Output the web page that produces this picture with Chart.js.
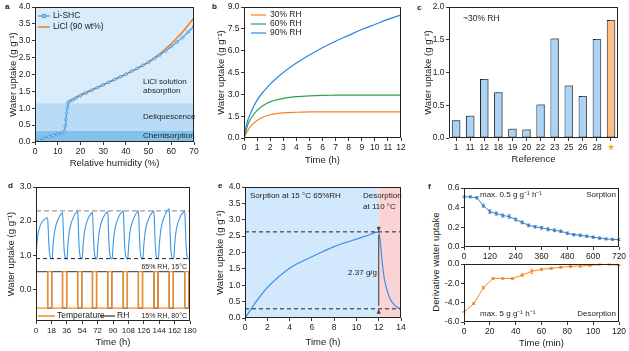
<!DOCTYPE html>
<html>
<head>
<meta charset="utf-8">
<script src="https://cdn.jsdelivr.net/npm/chart.js@4.4.1/dist/chart.umd.min.js"></script>
<style>
  body { margin: 0; background: #fff; }
  #fig { position: relative; width: 629px; height: 351px; overflow: hidden; font-family: "Liberation Sans", Arial, sans-serif; color: #222; }
  #fig canvas { position: absolute; }
  .tag { position: absolute; font-weight: bold; font-size: 8px; line-height: 8px; }
  .ftitle { position: absolute; font-size: 9.5px; white-space: nowrap; transform: translate(-50%, -50%) rotate(-90deg); }
</style>
</head>
<body>
<div id="fig">
  <div class="tag" style="left:5px;top:3px">a</div>
  <div class="tag" style="left:212px;top:3px">b</div>
  <div class="tag" style="left:417px;top:4px">c</div>
  <div class="tag" style="left:8px;top:182px">d</div>
  <div class="tag" style="left:218px;top:182px">e</div>
  <div class="tag" style="left:428px;top:183px">f</div>
  <div class="ftitle" style="left:435px;top:262px">Derivative water uptake</div>
</div>
<script>
const FONT = '"Liberation Sans", Arial, sans-serif';
const INK = "#222";
const UPTAKE_TITLE = "Water uptake (g g\u207B\u00B9)";

// a: sorption isotherm
const shcRH = [0, 2, 4, 6, 8, 10, 12, 13, 13.3, 13.6, 13.9, 14.2, 14.5, 15, 16.5, 18, 20, 22.5, 25, 27.5, 30, 32.5, 35, 37.5, 40, 42.5, 45, 47.5, 50, 52.5, 55, 57.5, 60, 62.5, 65, 67.5, 70];
const shcUptake = [0, 0.05, 0.12, 0.16, 0.2, 0.24, 0.28, 0.32, 0.48, 0.66, 0.85, 1.02, 1.15, 1.19, 1.24, 1.3, 1.37, 1.45, 1.53, 1.61, 1.69, 1.77, 1.85, 1.93, 2.01, 2.1, 2.18, 2.27, 2.36, 2.47, 2.58, 2.7, 2.83, 2.96, 3.1, 3.26, 3.43];
const liclRH = [14.5, 20, 25, 30, 35, 40, 45, 50, 55, 60, 65, 70];
const liclUptake = [1.2, 1.4, 1.55, 1.7, 1.85, 2.01, 2.18, 2.37, 2.61, 2.91, 3.26, 3.68];
const regionEdges = [0, 0.33, 1.15, 4.0];

// b: uptake kinetics
const kinTime = [0, 0.25, 0.5, 1, 1.5, 2, 2.5, 3, 4, 5, 6, 7, 8, 9, 10, 11, 12];
const uptake30 = [0, 0.45, 0.8, 1.2, 1.46, 1.6, 1.68, 1.73, 1.77, 1.79, 1.8, 1.8, 1.8, 1.8, 1.8, 1.8, 1.8];
const uptake60 = [0, 0.8, 1.3, 1.9, 2.25, 2.48, 2.62, 2.72, 2.84, 2.9, 2.93, 2.94, 2.95, 2.95, 2.95, 2.95, 2.95];
const uptake90 = [0, 1.1, 1.7, 2.6, 3.2, 3.7, 4.12, 4.5, 5.15, 5.7, 6.2, 6.65, 7.05, 7.45, 7.8, 8.15, 8.45];

// c: comparison with references
const refLabels = ["1", "11", "12", "18", "19", "20", "22", "23", "25", "26", "28", "\u2605"];
const refUptake = [0.27, 0.34, 0.9, 0.7, 0.14, 0.13, 0.51, 1.52, 0.8, 0.64, 1.51, 1.8];

// d: cycling
const cycleCurve = [
  [0, 0.88], [0.4, 1.1], [1, 1.32], [2, 1.55], [3, 1.7], [4.5, 1.84], [6.5, 1.95], [9, 2.03], [11.5, 2.08], [13.6, 2.1],
  [14.2, 1.82], [14.8, 1.45], [15.5, 1.15], [16.3, 0.98], [17.4, 0.91], [18.9, 0.89],
  [19.4, 1.08], [20.1, 1.35], [21.1, 1.58], [22.1, 1.74], [23.6, 1.9], [25.6, 2.04], [27.6, 2.14], [29.6, 2.21], [31.0, 2.25],
  [31.6, 1.95], [32.2, 1.52], [32.9, 1.17], [33.7, 0.99], [34.8, 0.91], [36.3, 0.89],
  [36.8, 1.08], [37.5, 1.35], [38.5, 1.6], [39.5, 1.77], [41, 1.93], [43, 2.07], [45, 2.18], [47, 2.25], [48.7, 2.3],
  [49.3, 2.0], [49.9, 1.55], [50.6, 1.18], [51.4, 0.99], [52.5, 0.91], [54, 0.89],
  [54.5, 1.08], [55.2, 1.35], [56.2, 1.6], [57.2, 1.76], [58.7, 1.92], [60.7, 2.06], [62.7, 2.16], [64.5, 2.22], [66.0, 2.26],
  [66.6, 1.96], [67.2, 1.52], [67.9, 1.17], [68.7, 0.99], [69.8, 0.91], [71.3, 0.89],
  [71.8, 1.08], [72.5, 1.35], [73.5, 1.6], [74.5, 1.77], [76, 1.93], [78, 2.07], [80, 2.17], [82, 2.24], [83.8, 2.28],
  [84.4, 1.98], [85, 1.53], [85.7, 1.17], [86.5, 0.99], [87.6, 0.91], [89.1, 0.89],
  [89.6, 1.08], [90.3, 1.35], [91.3, 1.6], [92.3, 1.77], [93.8, 1.93], [95.8, 2.07], [97.8, 2.18], [100, 2.25], [102.0, 2.3],
  [102.6, 2.0], [103.2, 1.55], [103.9, 1.18], [104.7, 0.99], [105.8, 0.91], [107.3, 0.89],
  [107.8, 1.08], [108.5, 1.35], [109.5, 1.6], [110.5, 1.77], [112, 1.93], [114, 2.07], [116, 2.18], [118, 2.25], [119.7, 2.3],
  [120.3, 2.0], [120.9, 1.55], [121.6, 1.18], [122.4, 0.99], [123.5, 0.91], [125, 0.89],
  [125.5, 1.08], [126.2, 1.35], [127.2, 1.6], [128.2, 1.77], [129.7, 1.93], [131.7, 2.07], [133.7, 2.18], [135.9, 2.25], [137.8, 2.3],
  [138.4, 2.0], [139, 1.55], [139.7, 1.18], [140.5, 0.99], [141.6, 0.91], [143.1, 0.89],
  [143.6, 1.08], [144.3, 1.36], [145.3, 1.62], [146.3, 1.8], [147.8, 1.97], [149.8, 2.12], [151.8, 2.23], [153.8, 2.31], [155.7, 2.36],
  [156.3, 2.05], [156.9, 1.58], [157.6, 1.19], [158.4, 0.99], [159.5, 0.91], [161, 0.89],
  [161.5, 1.08], [162.2, 1.35], [163.2, 1.6], [164.2, 1.77], [165.7, 1.93], [167.7, 2.07], [169.7, 2.18], [171.9, 2.25], [173.8, 2.3],
  [174.4, 2.0], [175, 1.55], [175.7, 1.18], [176.5, 0.99], [177.6, 0.91], [179.1, 0.89], [180, 0.9],
];
const desorbStart = [13.6, 31.0, 48.7, 66.0, 83.8, 102.0, 119.7, 137.8, 155.7, 173.8];
const desorbEnd = [18.4, 35.8, 53.5, 70.8, 88.6, 106.8, 124.5, 142.6, 160.5, 178.6];
const switchLevels = [0.52, -0.55];
const cycleRefLines = [2.3, 0.9];

// e: single sorption / desorption run
const runTime = [0, 0.5, 1, 1.5, 2, 3, 4, 5, 6, 7, 8, 9, 10, 11, 12, 12.15, 12.3, 12.5, 12.75, 13, 13.25, 13.5, 13.75, 14];
const runUptake = [0, 0.25, 0.5, 0.73, 0.93, 1.25, 1.52, 1.71, 1.87, 2.03, 2.18, 2.3, 2.41, 2.52, 2.63, 2.3, 1.75, 1.2, 0.85, 0.6, 0.46, 0.37, 0.31, 0.28];
const runRefLines = [2.63, 0.28];

// f: derivative uptake
const sorpTime = [0, 30, 60, 90, 120, 150, 180, 210, 240, 270, 300, 330, 360, 390, 420, 450, 480, 510, 540, 570, 600, 630, 660, 690, 720];
const sorpRate = [0.51, 0.51, 0.5, 0.42, 0.36, 0.34, 0.32, 0.31, 0.28, 0.25, 0.22, 0.205, 0.195, 0.18, 0.17, 0.16, 0.14, 0.125, 0.12, 0.11, 0.1, 0.09, 0.082, 0.078, 0.075];
const sorpErr = [0.01, 0.01, 0.012, 0.015, 0.018, 0.016, 0.016, 0.018, 0.015, 0.014, 0.014, 0.013, 0.014, 0.015, 0.014, 0.013, 0.013, 0.012, 0.012, 0.012, 0.011, 0.011, 0.01, 0.01, 0.01];
const desTime = [0, 7.5, 15, 22.5, 30, 37.5, 45, 52.5, 60, 67.5, 75, 82.5, 90, 97.5, 105, 112.5, 120];
const desRate = [-4.95, -4.1, -2.45, -1.5, -1.5, -1.5, -1.15, -0.75, -0.55, -0.45, -0.33, -0.25, -0.2, -0.15, -0.05, -0.05, -0.12];
const desErr = [0.05, 0.1, 0.12, 0.08, 0.06, 0.08, 0.12, 0.22, 0.12, 0.1, 0.1, 0.08, 0.14, 0.08, 0.05, 0.05, 0.05];

Chart.defaults.font.family = FONT;
Chart.defaults.font.size = 8.5;
Chart.defaults.color = INK;
Chart.defaults.animation = false;
Chart.defaults.events = [];
Chart.defaults.plugins.legend.display = false;
Chart.defaults.plugins.tooltip.enabled = false;
Chart.defaults.elements.point.radius = 0;

const fig = document.getElementById("fig");

function pairs(xs, ys) {
  return xs.map((x, i) => ({ x, y: ys[i] }));
}

function stepSeries(normal, during) {
  const points = [{ x: 0, y: normal }];
  desorbStart.forEach((start, i) => {
    points.push({ x: start, y: during });
    points.push({ x: desorbEnd[i], y: normal });
  });
  points.push({ x: 180, y: normal });
  return points;
}

function fixed(digits) {
  return (value) => Number(value).toFixed(digits);
}

function axis(dir, box, plot, o) {
  const horizontal = dir === "x";
  const size = horizontal ? box.y + box.h - plot.b : plot.l - box.x;
  const lineHeight = 9.5 * 1.2;
  const scale = {
    type: o.type || "linear",
    position: horizontal ? "bottom" : "left",
    grid: { drawOnChartArea: false, tickLength: 3, color: INK, lineWidth: 0.9, offset: false },
    border: { display: false },
    ticks: { padding: 1.5, maxRotation: 0, autoSkip: false, font: { size: o.tickSize || 8.5 }, color: o.tickColor || INK },
    title: {
      display: !!o.title,
      text: o.title || "",
      color: INK,
      font: { size: 9.5 },
      padding: horizontal
        ? { top: 0, bottom: box.y + box.h - (o.titleAt || 0) - lineHeight / 2 }
        : { top: (o.titleAt || 0) - box.x - lineHeight / 2, bottom: 0 },
    },
    afterFit(s) {
      if (horizontal) s.height = size;
      else s.width = size;
    },
  };
  if (o.min !== undefined) scale.min = o.min;
  if (o.max !== undefined) scale.max = o.max;
  if (o.step !== undefined) scale.ticks.stepSize = o.step;
  if (o.format) scale.ticks.callback = o.format;
  if (o.only) scale.afterBuildTicks = (s) => { s.ticks = o.only.map((value) => ({ value })); };
  return scale;
}

function decoPlugin(spec) {
  return {
    id: "deco",
    beforeDatasetsDraw(chart) {
      const { ctx, chartArea: area, scales } = chart;
      (spec.bands || []).forEach((band) => {
        ctx.fillStyle = band.color;
        if (band.axis === "x") {
          const x1 = scales.x.getPixelForValue(band.from);
          const x2 = scales.x.getPixelForValue(band.to);
          ctx.fillRect(x1, area.top, x2 - x1, area.bottom - area.top);
        } else {
          const y1 = scales.y.getPixelForValue(band.to);
          const y2 = scales.y.getPixelForValue(band.from);
          ctx.fillRect(area.left, y1, area.right - area.left, y2 - y1);
        }
      });
      ctx.save();
      if (spec.shadow) {
        ctx.shadowColor = "rgba(110, 110, 110, 0.75)";
        ctx.shadowOffsetX = 2;
        ctx.shadowOffsetY = -1;
        ctx.shadowBlur = 0;
      }
    },
    afterDatasetsDraw(chart) {
      const { ctx, chartArea: area, scales } = chart;
      ctx.restore();

      chart.data.datasets.forEach((dataset, di) => {
        if (!dataset.errors) return;
        const meta = chart.getDatasetMeta(di);
        ctx.save();
        ctx.strokeStyle = dataset.borderColor;
        ctx.lineWidth = 0.8;
        meta.data.forEach((el, i) => {
          const value = dataset.data[i].y;
          const top = scales.y.getPixelForValue(value + dataset.errors[i]);
          const bottom = scales.y.getPixelForValue(value - dataset.errors[i]);
          ctx.beginPath();
          ctx.moveTo(el.x, top);
          ctx.lineTo(el.x, bottom);
          ctx.moveTo(el.x - 1.6, top);
          ctx.lineTo(el.x + 1.6, top);
          ctx.moveTo(el.x - 1.6, bottom);
          ctx.lineTo(el.x + 1.6, bottom);
          ctx.stroke();
        });
        ctx.restore();
      });

      (spec.hlines || []).forEach((line) => {
        const y = scales.y.getPixelForValue(line.y);
        ctx.save();
        ctx.strokeStyle = line.color;
        ctx.lineWidth = line.width || 1;
        ctx.setLineDash(line.dash || [4, 3]);
        ctx.beginPath();
        ctx.moveTo(area.left, y);
        ctx.lineTo(area.right, y);
        ctx.stroke();
        ctx.restore();
      });

      (spec.arrows || []).forEach((arrow) => {
        const x = scales.x.getPixelForValue(arrow.x);
        const y1 = scales.y.getPixelForValue(arrow.from);
        const y2 = scales.y.getPixelForValue(arrow.to);
        ctx.save();
        ctx.strokeStyle = arrow.color;
        ctx.fillStyle = arrow.color;
        ctx.lineWidth = 1.1;
        ctx.beginPath();
        ctx.moveTo(x, y1 - 3);
        ctx.lineTo(x, y2 + 3);
        ctx.stroke();
        [[y1, -1], [y2, 1]].forEach(([tipY, dir]) => {
          ctx.beginPath();
          ctx.moveTo(x, tipY);
          ctx.lineTo(x - 2, tipY - dir * 5);
          ctx.lineTo(x + 2, tipY - dir * 5);
          ctx.closePath();
          ctx.fill();
        });
        ctx.restore();
      });

      ctx.save();
      ctx.strokeStyle = INK;
      ctx.lineWidth = 1;
      ctx.strokeRect(area.left + 0.5, area.top + 0.5, area.right - area.left - 1, area.bottom - area.top - 1);
      ctx.restore();

      (spec.keys || []).forEach((key) => {
        const y = area.top + key.dy;
        ctx.save();
        ctx.strokeStyle = key.color;
        ctx.lineWidth = key.width || 1.5;
        ctx.beginPath();
        ctx.moveTo(area.left + key.dx1, y);
        ctx.lineTo(area.left + key.dx2, y);
        ctx.stroke();
        if (key.dot) {
          ctx.fillStyle = key.dot;
          ctx.beginPath();
          ctx.arc(area.left + (key.dx1 + key.dx2) / 2, y, 1.8, 0, Math.PI * 2);
          ctx.fill();
          ctx.stroke();
        }
        ctx.restore();
      });

      (spec.notes || []).forEach((note) => {
        ctx.save();
        ctx.font = `${note.size || 8}px ${FONT}`;
        ctx.fillStyle = note.color || INK;
        ctx.textAlign = note.align || "left";
        ctx.textBaseline = "middle";
        ctx.fillText(note.text, area.left + note.dx, area.top + note.dy);
        ctx.restore();
      });
    },
  };
}

function build(box, plot, config, spec) {
  const canvas = document.createElement("canvas");
  canvas.width = box.w;
  canvas.height = box.h;
  canvas.style.left = box.x + "px";
  canvas.style.top = box.y + "px";
  canvas.style.width = box.w + "px";
  canvas.style.height = box.h + "px";
  fig.appendChild(canvas);
  config.options = Object.assign({
    responsive: false,
    devicePixelRatio: 1,
    layout: { padding: { left: 0, top: plot.t - box.y, right: box.x + box.w - plot.r, bottom: 0 } },
  }, config.options);
  config.plugins = [decoPlugin(spec || {})];
  return new Chart(canvas.getContext("2d"), config);
}

// ---- a
{
  const box = { x: 0, y: 0, w: 205, h: 172 };
  const plot = { l: 35, t: 7, r: 194, b: 142 };
  build(box, plot, {
    type: "line",
    data: {
      datasets: [
        { data: pairs(liclRH, liclUptake), borderColor: "#f7821b", borderWidth: 1.6, tension: 0, order: 2 },
        {
          data: pairs(shcRH, shcUptake), borderColor: "#3f93dc", borderWidth: 1.1, tension: 0, order: 1,
          pointRadius: 1.4, pointBackgroundColor: "#a8d4f5", pointBorderColor: "#3f93dc", pointBorderWidth: 0.7,
        },
      ],
    },
    options: {
      scales: {
        x: axis("x", box, plot, { min: 0, max: 70, step: 10, title: "Relative humidity (%)", titleAt: 163 }),
        y: axis("y", box, plot, { min: 0, max: 4, step: 0.5, format: fixed(1), title: UPTAKE_TITLE, titleAt: 13 }),
      },
    },
  }, {
    bands: [
      { from: regionEdges[2], to: regionEdges[3], color: "#d8ecfb" },
      { from: regionEdges[1], to: regionEdges[2], color: "#b9dbf6" },
      { from: regionEdges[0], to: regionEdges[1], color: "#84c0ec" },
    ],
    keys: [
      { dx1: 3, dx2: 15, dy: 9, color: "#3f93dc", width: 1.1, dot: "#a8d4f5" },
      { dx1: 3, dx2: 15, dy: 20, color: "#f7821b", width: 1.6 },
    ],
    notes: [
      { text: "Li-SHC", dx: 18, dy: 9, size: 8.5 },
      { text: "LiCl (90 wt%)", dx: 18, dy: 20, size: 8.5 },
      { text: "LiCl solution", dx: 108, dy: 75 },
      { text: "absorption", dx: 108, dy: 84 },
      { text: "Deliquescence", dx: 108, dy: 110 },
      { text: "Chemisorption", dx: 108, dy: 129 },
    ],
  });
}

// ---- b
{
  const box = { x: 205, y: 0, w: 205, h: 172 };
  const plot = { l: 244, t: 7, r: 401, b: 138 };
  const line = (values, color) => ({ data: pairs(kinTime, values), borderColor: color, borderWidth: 1.2, cubicInterpolationMode: "monotone" });
  build(box, plot, {
    type: "line",
    data: { datasets: [line(uptake90, "#2a86e0"), line(uptake60, "#2e9e52"), line(uptake30, "#f5841f")] },
    options: {
      scales: {
        x: axis("x", box, plot, { min: 0, max: 12, step: 1, title: "Time (h)", titleAt: 160 }),
        y: axis("y", box, plot, { min: 0, max: 9, step: 1.5, format: fixed(1), title: UPTAKE_TITLE, titleAt: 221 }),
      },
    },
  }, {
    keys: [
      { dx1: 7, dx2: 22, dy: 8, color: "#f5841f", width: 1.2 },
      { dx1: 7, dx2: 22, dy: 17, color: "#2e9e52", width: 1.2 },
      { dx1: 7, dx2: 22, dy: 26, color: "#2a86e0", width: 1.2 },
    ],
    notes: [
      { text: "30% RH", dx: 26, dy: 8, size: 8.5 },
      { text: "60% RH", dx: 26, dy: 17, size: 8.5 },
      { text: "90% RH", dx: 26, dy: 26, size: 8.5 },
    ],
  });
}

// ---- c
{
  const box = { x: 410, y: 0, w: 219, h: 172 };
  const plot = { l: 449, t: 7, r: 618, b: 138 };
  build(box, plot, {
    type: "bar",
    data: {
      labels: refLabels,
      datasets: [{
        data: refUptake,
        backgroundColor: refLabels.map((label) => (label === "\u2605" ? "#fcbf84" : "#abd3f6")),
        borderColor: INK,
        borderWidth: 1,
        borderSkipped: false,
        barPercentage: 0.6,
        categoryPercentage: 1,
      }],
    },
    options: {
      scales: {
        x: axis("x", box, plot, {
          type: "category", title: "Reference", titleAt: 159,
          tickColor: (c) => (refLabels[c.index] === "\u2605" ? "#f2b705" : INK),
        }),
        y: axis("y", box, plot, { min: 0, max: 2, step: 0.5, format: fixed(1), title: UPTAKE_TITLE, titleAt: 428 }),
      },
    },
  }, {
    shadow: true,
    notes: [{ text: "~30% RH", dx: 14, dy: 12, size: 8.5 }],
  });
}

// ---- d
{
  const box = { x: 0, y: 172, w: 205, h: 179 };
  const plot = { l: 36, t: 187, r: 190, b: 321 };
  build(box, plot, {
    type: "line",
    data: {
      datasets: [
        { data: stepSeries(switchLevels[1], switchLevels[0]), borderColor: "#f7891f", borderWidth: 1.3, stepped: "before" },
        { data: stepSeries(switchLevels[0], switchLevels[1]), borderColor: "#5b5b5b", borderWidth: 1.3, stepped: "before" },
        { data: cycleCurve.map(([x, y]) => ({ x, y })), borderColor: "#3a97e8", borderWidth: 1.1, cubicInterpolationMode: "monotone" },
      ],
    },
    options: {
      scales: {
        x: axis("x", box, plot, { min: 0, max: 180, step: 18, tickSize: 8, title: "Time (h)", titleAt: 342 }),
        y: axis("y", box, plot, { min: -0.93, max: 3, only: [0, 1, 2, 3], format: fixed(1), title: UPTAKE_TITLE, titleAt: 11 }),
      },
    },
  }, {
    hlines: [
      { y: cycleRefLines[0], color: "#9a9a9a", width: 1.4, dash: [5, 3] },
      { y: cycleRefLines[1], color: INK, width: 1, dash: [4, 3] },
    ],
    keys: [
      { dx1: 2, dx2: 19, dy: 129, color: "#f7891f", width: 1.5 },
      { dx1: 64, dx2: 79, dy: 129, color: "#5b5b5b", width: 1.5 },
    ],
    notes: [
      { text: "Temperature", dx: 21, dy: 129, size: 8.5 },
      { text: "RH", dx: 81, dy: 129, size: 8.5 },
      { text: "65% RH, 15\u00B0C", dx: 151, dy: 80, align: "right", size: 7 },
      { text: "15% RH, 80\u00B0C", dx: 151, dy: 129, align: "right", size: 7 },
    ],
  });
}

// ---- e
{
  const box = { x: 205, y: 172, w: 205, h: 179 };
  const plot = { l: 245, t: 187, r: 401, b: 318 };
  build(box, plot, {
    type: "line",
    data: {
      datasets: [{ data: pairs(runTime, runUptake), borderColor: "#3a8fe6", borderWidth: 1.2, cubicInterpolationMode: "monotone" }],
    },
    options: {
      scales: {
        x: axis("x", box, plot, { min: 0, max: 14, step: 2, title: "Time (h)", titleAt: 342 }),
        y: axis("y", box, plot, { min: 0, max: 4, step: 0.5, format: fixed(1), title: UPTAKE_TITLE, titleAt: 220 }),
      },
    },
  }, {
    bands: [
      { axis: "x", from: 0, to: 12, color: "#d2e8fc" },
      { axis: "x", from: 12, to: 14, color: "#fad4d4" },
    ],
    hlines: [
      { y: runRefLines[0], color: INK, width: 1, dash: [4, 3] },
      { y: runRefLines[1], color: INK, width: 1, dash: [4, 3] },
    ],
    arrows: [{ x: 12, from: runRefLines[1], to: runRefLines[0], color: "#444" }],
    notes: [
      { text: "Sorption at 15 \u00B0C 65%RH", dx: 5, dy: 9 },
      { text: "Desorption", dx: 118, dy: 9 },
      { text: "at 110 \u00B0C", dx: 118, dy: 20 },
      { text: "2.37 g/g", dx: 132, dy: 86, align: "right" },
    ],
  });
}

// ---- f (sorption rate)
{
  const box = { x: 410, y: 172, w: 219, h: 93 };
  const plot = { l: 464, t: 188, r: 619, b: 247 };
  build(box, plot, {
    type: "line",
    data: {
      datasets: [{
        data: pairs(sorpTime, sorpRate), errors: sorpErr, borderColor: "#3c7fc4", borderWidth: 1, tension: 0,
        pointRadius: 1.3, pointBackgroundColor: "#3c7fc4", pointBorderWidth: 0,
      }],
    },
    options: {
      scales: {
        x: axis("x", box, plot, { min: 0, max: 720, step: 120 }),
        y: axis("y", box, plot, { min: 0, max: 0.6, step: 0.2, format: fixed(1) }),
      },
    },
  }, {
    notes: [
      { text: "max. 0.5 g g\u207B\u00B9 h\u207B\u00B9", dx: 16, dy: 7 },
      { text: "Sorption", dx: 152, dy: 7, align: "right" },
    ],
  });
}

// ---- f (desorption rate)
{
  const box = { x: 410, y: 256, w: 219, h: 95 };
  const plot = { l: 464, t: 264, r: 619, b: 322 };
  build(box, plot, {
    type: "line",
    data: {
      datasets: [{
        data: pairs(desTime, desRate), errors: desErr, borderColor: "#f7891f", borderWidth: 1, tension: 0,
        pointRadius: 1.3, pointBackgroundColor: "#f7891f", pointBorderWidth: 0,
      }],
    },
    options: {
      scales: {
        x: axis("x", box, plot, { min: 0, max: 120, step: 20, title: "Time (min)", titleAt: 343 }),
        y: axis("y", box, plot, { min: -6, max: 0, step: 2, format: fixed(1) }),
      },
    },
  }, {
    notes: [
      { text: "max. 5 g g\u207B\u00B9 h\u207B\u00B9", dx: 16, dy: 50 },
      { text: "Desorption", dx: 152, dy: 50, align: "right" },
    ],
  });
}
</script>
</body>
</html>
